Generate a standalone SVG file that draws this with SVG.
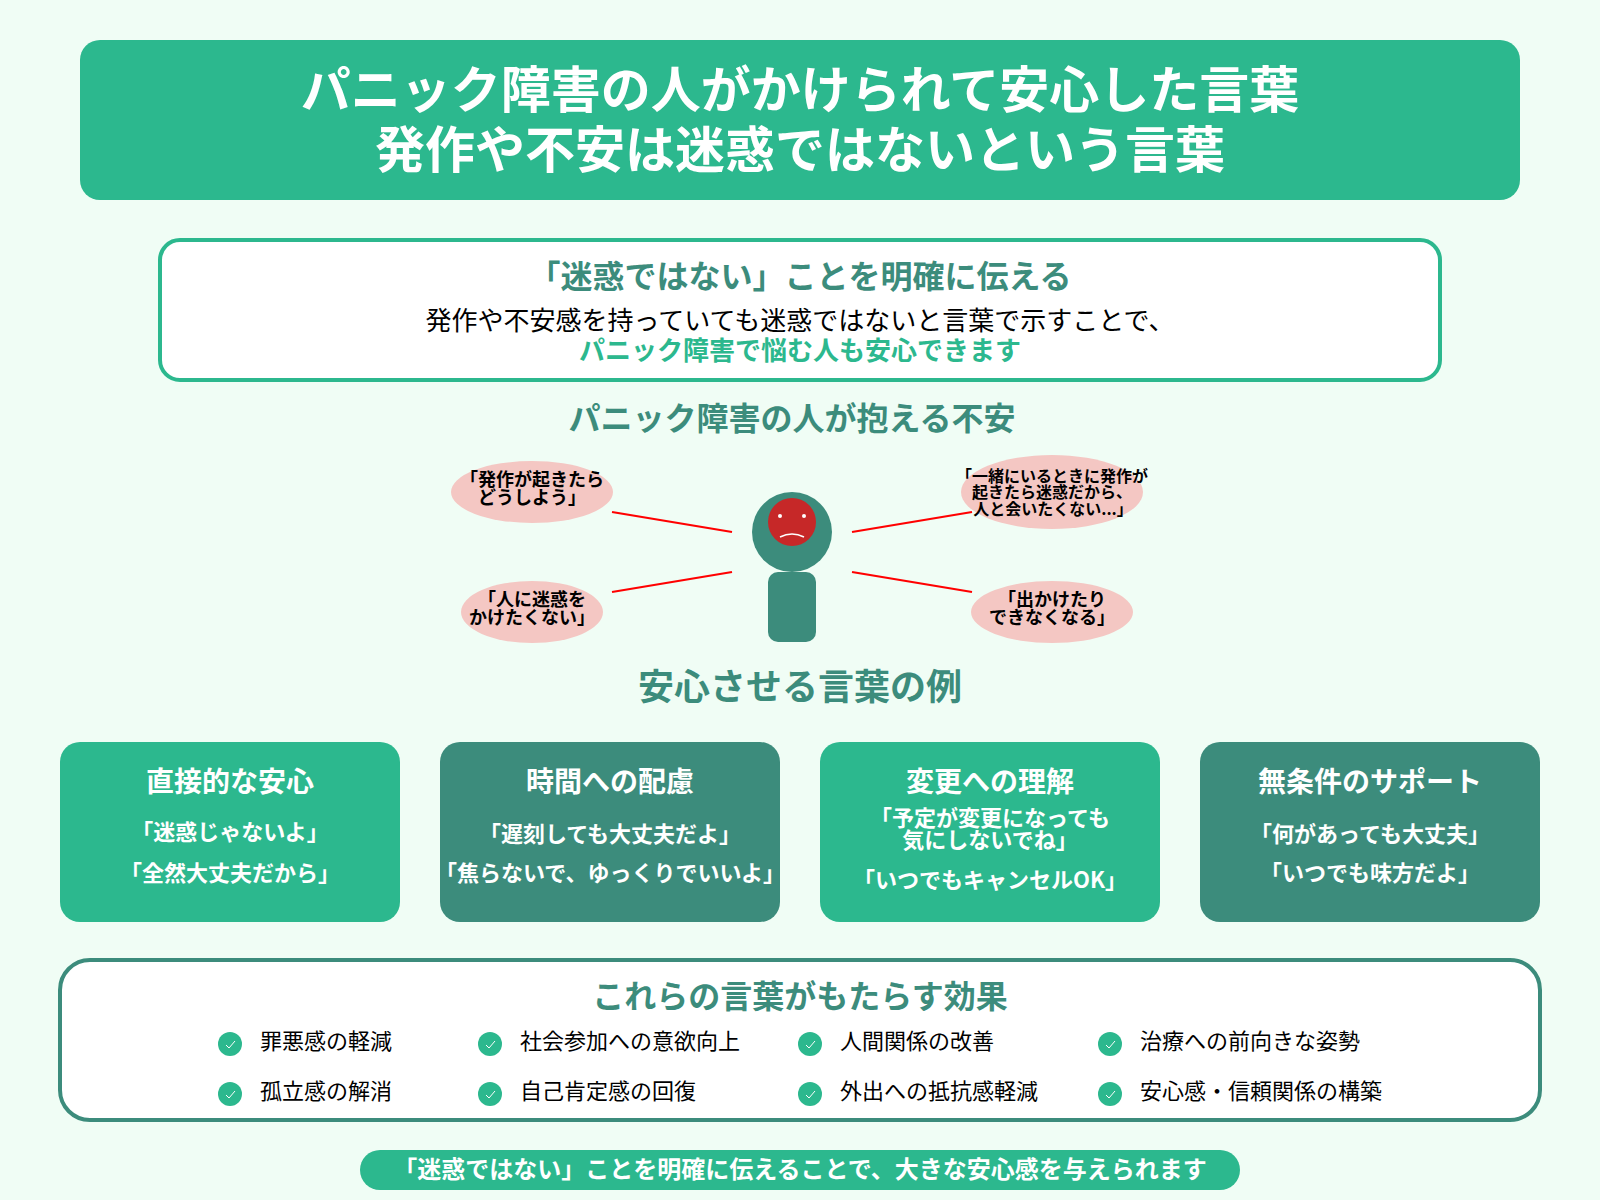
<svg xmlns="http://www.w3.org/2000/svg" width="1600" height="1200" viewBox="0 0 1600 1200">
<style>
text{font-family:"Noto Sans CJK JP","Noto Sans",sans-serif;text-anchor:middle}
.b{font-weight:700}
.w{fill:#fff}
.h{fill:#3c8c7c;font-weight:700}
.g{fill:#2cb88e}
.d{fill:#3c8c7c}
.bub{fill:#f4c7c3}
.bt{font-size:18px;font-weight:700;fill:#000}
.bs{font-size:16px;font-weight:700;fill:#000}
.ct{font-size:28px;font-weight:700;fill:#fff}
.cl{font-size:22px;font-weight:700;fill:#fff}
.it{font-size:22px;fill:#000;text-anchor:start}
.ck{fill:none;stroke:#fff;stroke-width:1}
.con{stroke:#f00;stroke-width:2;fill:none}
</style>
<rect width="1600" height="1200" fill="#f0fdf5"/>
<g id="title">
<rect class="g" x="80" y="40" width="1440" height="160" rx="20"/>
<text class="b w" x="800" y="108" font-size="50">パニック障害の人がかけられて安心した言葉</text>
<text class="b w" x="800" y="168" font-size="50">発作や不安は迷惑ではないという言葉</text>
</g>
<g id="message">
<rect x="160" y="240" width="1280" height="140" rx="20" fill="#fff" stroke="#2cb88e" stroke-width="4"/>
<text class="h" x="800" y="288" font-size="32">「迷惑ではない」ことを明確に伝える</text>
<text x="800" y="330" font-size="26" fill="#000">発作や不安感を持っていても迷惑ではないと言葉で示すことで、</text>
<text class="b g" x="800" y="360" font-size="26">パニック障害で悩む人も安心できます</text>
</g>
<text id="anxiety-heading" class="h" x="792" y="430" font-size="32">パニック障害の人が抱える不安</text>
<g id="connectors">
<line class="con" x1="612" y1="512" x2="732" y2="532"/>
<line class="con" x1="852" y1="532" x2="972" y2="512"/>
<line class="con" x1="732" y1="572" x2="612" y2="592"/>
<line class="con" x1="852" y1="572" x2="972" y2="592"/>
</g>
<g id="person">
<circle class="d" cx="792" cy="532" r="40"/>
<rect class="d" x="768" y="572" width="48" height="70" rx="10"/>
<circle cx="792" cy="522" r="24" fill="#c62828"/>
<circle cx="780" cy="516" r="2" fill="#fff"/>
<circle cx="804" cy="516" r="2" fill="#fff"/>
<path d="M780 537Q792 531 804 537" fill="none" stroke="#fff" stroke-width="1.5"/>
</g>
<g id="bubble-tl">
<ellipse class="bub" cx="532" cy="492" rx="81" ry="31"/>
<text class="bt" x="532" y="486">「発作が起きたら</text>
<text class="bt" x="532" y="504">どうしよう」</text>
</g>
<g id="bubble-tr">
<ellipse class="bub" cx="1052" cy="492" rx="91" ry="37"/>
<text class="bs" x="1052" y="482">「一緒にいるときに発作が</text>
<text class="bs" x="1052" y="498">起きたら迷惑だから、</text>
<text class="bs" x="1053" y="515">人と会いたくない...」</text>
</g>
<g id="bubble-bl">
<ellipse class="bub" cx="532" cy="612" rx="71" ry="31"/>
<text class="bt" x="532" y="606">「人に迷惑を</text>
<text class="bt" x="532" y="624">かけたくない」</text>
</g>
<g id="bubble-br">
<ellipse class="bub" cx="1052" cy="612" rx="81" ry="31"/>
<text class="bt" x="1052" y="606">「出かけたり</text>
<text class="bt" x="1052" y="624">できなくなる」</text>
</g>
<text id="examples-heading" class="h" x="800" y="700" font-size="36">安心させる言葉の例</text>
<g id="card-1">
<rect class="g" x="60" y="742" width="340" height="180" rx="20"/>
<text class="ct" x="230" y="792">直接的な安心</text>
<text class="cl" x="230" y="840">「迷惑じゃないよ」</text>
<text class="cl" x="230" y="881">「全然大丈夫だから」</text>
</g>
<g id="card-2">
<rect class="d" x="440" y="742" width="340" height="180" rx="20"/>
<text class="ct" x="610" y="792">時間への配慮</text>
<text class="cl" x="610" y="842">「遅刻しても大丈夫だよ」</text>
<text class="cl" x="610" y="881">「焦らないで、ゆっくりでいいよ」</text>
</g>
<g id="card-3">
<rect class="g" x="820" y="742" width="340" height="180" rx="20"/>
<text class="ct" x="990" y="792">変更への理解</text>
<text class="cl" x="990" y="826">「予定が変更になっても</text>
<text class="cl" x="990" y="848">気にしないでね」</text>
<text class="cl" x="990" y="888">「いつでもキャンセルOK」</text>
</g>
<g id="card-4">
<rect class="d" x="1200" y="742" width="340" height="180" rx="20"/>
<text class="ct" x="1370" y="792">無条件のサポート</text>
<text class="cl" x="1370" y="842">「何があっても大丈夫」</text>
<text class="cl" x="1370" y="881">「いつでも味方だよ」</text>
</g>
<g id="effects">
<rect x="60" y="960" width="1480" height="160" rx="30" fill="#fff" stroke="#3c8c7c" stroke-width="4"/>
<text class="h" x="800" y="1008" font-size="32">これらの言葉がもたらす効果</text>
<g id="e1"><circle class="g" cx="230" cy="1044" r="12"/><path class="ck" d="M226 1045l3 3 6-7"/><text class="it" x="260" y="1049">罪悪感の軽減</text></g>
<g id="e2"><circle class="g" cx="490" cy="1044" r="12"/><path class="ck" d="M486 1045l3 3 6-7"/><text class="it" x="520" y="1049">社会参加への意欲向上</text></g>
<g id="e3"><circle class="g" cx="810" cy="1044" r="12"/><path class="ck" d="M806 1045l3 3 6-7"/><text class="it" x="840" y="1049">人間関係の改善</text></g>
<g id="e4"><circle class="g" cx="1110" cy="1044" r="12"/><path class="ck" d="M1106 1045l3 3 6-7"/><text class="it" x="1140" y="1049">治療への前向きな姿勢</text></g>
<g id="e5"><circle class="g" cx="230" cy="1094" r="12"/><path class="ck" d="M226 1095l3 3 6-7"/><text class="it" x="260" y="1099">孤立感の解消</text></g>
<g id="e6"><circle class="g" cx="490" cy="1094" r="12"/><path class="ck" d="M486 1095l3 3 6-7"/><text class="it" x="520" y="1099">自己肯定感の回復</text></g>
<g id="e7"><circle class="g" cx="810" cy="1094" r="12"/><path class="ck" d="M806 1095l3 3 6-7"/><text class="it" x="840" y="1099">外出への抵抗感軽減</text></g>
<g id="e8"><circle class="g" cx="1110" cy="1094" r="12"/><path class="ck" d="M1106 1095l3 3 6-7"/><text class="it" x="1140" y="1099">安心感・信頼関係の構築</text></g>
</g>
<g id="footer">
<rect class="g" x="360" y="1150" width="880" height="40" rx="20"/>
<text class="b w" x="800" y="1178" font-size="24">「迷惑ではない」ことを明確に伝えることで、大きな安心感を与えられます</text>
</g>
</svg>
